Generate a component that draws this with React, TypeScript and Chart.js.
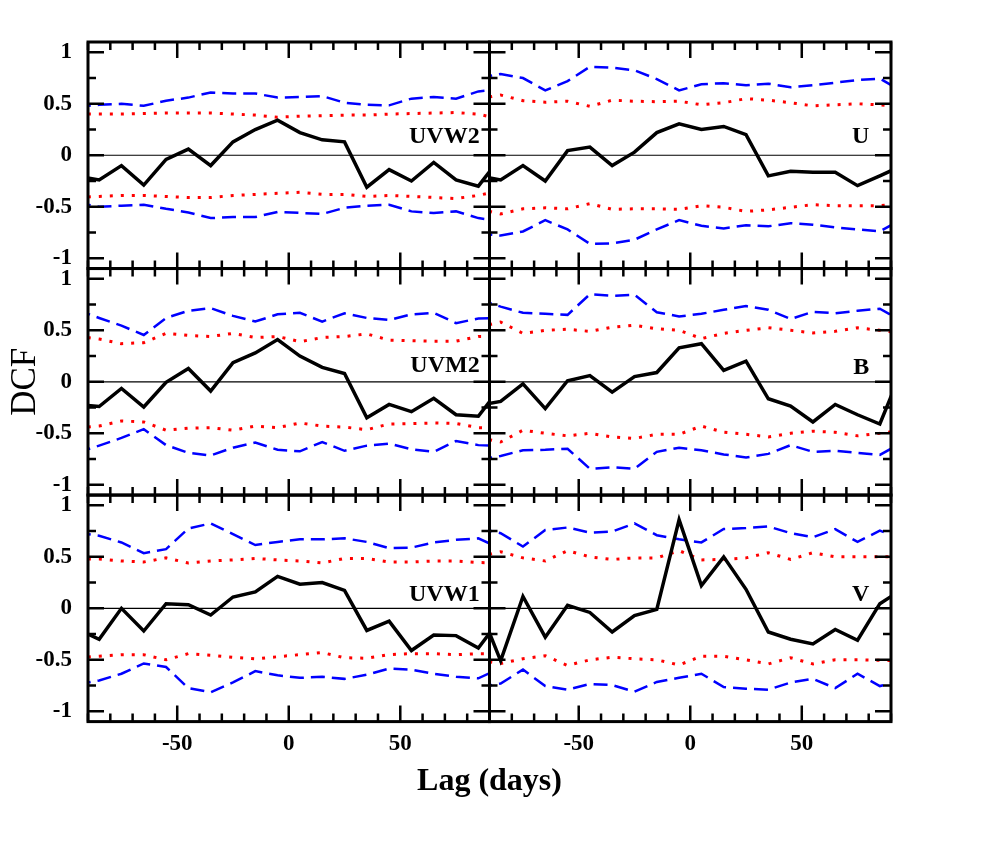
import { useEffect, useRef } from "react";
import { Chart, registerables } from "chart.js";

Chart.register(...registerables);

// lag grid (days); the two outer points fall just outside the plotted range
const lags = [-95, -85, -75, -65, -55, -45, -35, -25, -15, -5, 5, 15, 25, 35, 45, 55, 65, 75, 85, 95];

// UVW2
const uvw2Dcf = [-0.2, -0.24, -0.1, -0.29, -0.04, 0.06, -0.1, 0.13, 0.25, 0.34, 0.22, 0.15, 0.13, -0.31, -0.14, -0.25, -0.07, -0.24, -0.3, -0.02];
const uvw2RedHi = [0.4, 0.4, 0.4, 0.405, 0.41, 0.41, 0.41, 0.4, 0.39, 0.37, 0.38, 0.385, 0.39, 0.39, 0.4, 0.405, 0.41, 0.415, 0.4, 0.35];
const uvw2RedLo = [-0.41, -0.4, -0.39, -0.39, -0.4, -0.41, -0.41, -0.39, -0.38, -0.37, -0.36, -0.38, -0.38, -0.4, -0.39, -0.4, -0.41, -0.42, -0.39, -0.34];
const uvw2BlueHi = [0.47, 0.49, 0.5, 0.48, 0.53, 0.56, 0.61, 0.6, 0.6, 0.56, 0.565, 0.575, 0.51, 0.49, 0.485, 0.55, 0.565, 0.55, 0.62, 0.64];
const uvw2BlueLo = [-0.46, -0.5, -0.49, -0.48, -0.52, -0.555, -0.61, -0.6, -0.6, -0.55, -0.56, -0.57, -0.51, -0.49, -0.48, -0.545, -0.56, -0.545, -0.61, -0.64];

// U
const uDcf = [-0.2, -0.24, -0.1, -0.25, 0.045, 0.08, -0.1, 0.03, 0.22, 0.305, 0.25, 0.28, 0.2, -0.2, -0.155, -0.165, -0.165, -0.295, -0.2, -0.1];
const uRedHi = [0.55, 0.585, 0.53, 0.515, 0.525, 0.475, 0.535, 0.525, 0.52, 0.525, 0.49, 0.51, 0.55, 0.535, 0.51, 0.48, 0.49, 0.5, 0.49, 0.47];
const uRedLo = [-0.52, -0.57, -0.52, -0.51, -0.52, -0.47, -0.525, -0.52, -0.52, -0.525, -0.49, -0.505, -0.545, -0.53, -0.505, -0.48, -0.49, -0.49, -0.49, -0.47];
const uBlueHi = [0.75, 0.79, 0.75, 0.63, 0.72, 0.86, 0.85, 0.825, 0.74, 0.63, 0.69, 0.7, 0.68, 0.695, 0.66, 0.68, 0.705, 0.73, 0.745, 0.62];
const uBlueLo = [-0.76, -0.78, -0.74, -0.63, -0.72, -0.86, -0.855, -0.82, -0.72, -0.63, -0.685, -0.71, -0.68, -0.69, -0.66, -0.675, -0.7, -0.72, -0.74, -0.62];

// UVM2
const uvm2Dcf = [-0.22, -0.24, -0.065, -0.245, -0.005, 0.13, -0.09, 0.185, 0.28, 0.41, 0.25, 0.14, 0.08, -0.35, -0.22, -0.29, -0.16, -0.32, -0.335, -0.055];
const uvm2RedHi = [0.445, 0.415, 0.37, 0.38, 0.47, 0.45, 0.44, 0.47, 0.43, 0.44, 0.39, 0.43, 0.44, 0.465, 0.405, 0.4, 0.395, 0.395, 0.44, 0.44];
const uvm2RedLo = [-0.45, -0.43, -0.38, -0.39, -0.47, -0.45, -0.445, -0.47, -0.43, -0.445, -0.4, -0.43, -0.44, -0.465, -0.41, -0.405, -0.4, -0.405, -0.445, -0.45];
const uvm2BlueHi = [0.7, 0.62, 0.545, 0.455, 0.62, 0.69, 0.715, 0.64, 0.585, 0.655, 0.67, 0.585, 0.665, 0.62, 0.6, 0.655, 0.67, 0.57, 0.615, 0.62];
const uvm2BlueLo = [-0.69, -0.62, -0.545, -0.46, -0.615, -0.69, -0.715, -0.64, -0.59, -0.66, -0.675, -0.585, -0.67, -0.62, -0.6, -0.655, -0.68, -0.575, -0.615, -0.62];

// B
const bDcf = [-0.23, -0.19, -0.02, -0.26, 0.01, 0.06, -0.1, 0.05, 0.09, 0.33, 0.37, 0.11, 0.2, -0.165, -0.235, -0.39, -0.22, -0.32, -0.41, 0.12];
const bRedHi = [0.53, 0.58, 0.47, 0.5, 0.51, 0.49, 0.53, 0.55, 0.515, 0.5, 0.42, 0.47, 0.5, 0.525, 0.5, 0.475, 0.49, 0.525, 0.5, 0.47];
const bRedLo = [-0.54, -0.585, -0.47, -0.5, -0.525, -0.5, -0.535, -0.55, -0.51, -0.51, -0.43, -0.49, -0.51, -0.535, -0.5, -0.48, -0.49, -0.525, -0.5, -0.47];
const bBlueHi = [0.8, 0.73, 0.67, 0.66, 0.65, 0.85, 0.835, 0.845, 0.675, 0.635, 0.66, 0.7, 0.735, 0.7, 0.61, 0.68, 0.665, 0.69, 0.71, 0.59];
const bBlueLo = [-0.76, -0.72, -0.665, -0.66, -0.65, -0.845, -0.83, -0.845, -0.68, -0.64, -0.665, -0.705, -0.735, -0.7, -0.615, -0.68, -0.67, -0.69, -0.71, -0.59];

// UVW1
const uvw1Dcf = [-0.2, -0.3, 0.0, -0.22, 0.045, 0.035, -0.065, 0.11, 0.16, 0.31, 0.235, 0.25, 0.175, -0.215, -0.125, -0.41, -0.26, -0.265, -0.385, -0.1];
const uvw1RedHi = [0.48, 0.48, 0.46, 0.45, 0.49, 0.44, 0.46, 0.47, 0.485, 0.47, 0.46, 0.44, 0.485, 0.485, 0.45, 0.45, 0.46, 0.46, 0.445, 0.44];
const uvw1RedLo = [-0.48, -0.465, -0.45, -0.45, -0.5, -0.44, -0.455, -0.475, -0.49, -0.47, -0.45, -0.43, -0.48, -0.485, -0.45, -0.44, -0.44, -0.45, -0.44, -0.44];
const uvw1BlueHi = [0.735, 0.705, 0.64, 0.535, 0.575, 0.775, 0.825, 0.72, 0.615, 0.645, 0.67, 0.67, 0.68, 0.645, 0.585, 0.59, 0.64, 0.665, 0.68, 0.58];
const uvw1BlueLo = [-0.74, -0.7, -0.635, -0.535, -0.57, -0.775, -0.815, -0.72, -0.61, -0.65, -0.675, -0.665, -0.685, -0.645, -0.585, -0.595, -0.635, -0.665, -0.68, -0.58];

// V
const vDcf = [0.03, -0.51, 0.115, -0.28, 0.03, -0.04, -0.23, -0.07, -0.01, 0.86, 0.22, 0.5, 0.185, -0.23, -0.3, -0.345, -0.205, -0.31, 0.045, 0.185];
const vRedHi = [0.5, 0.55, 0.49, 0.46, 0.56, 0.5, 0.475, 0.49, 0.49, 0.56, 0.47, 0.475, 0.49, 0.54, 0.475, 0.54, 0.5, 0.5, 0.5, 0.5];
const vRedLo = [-0.505, -0.535, -0.49, -0.46, -0.555, -0.5, -0.475, -0.49, -0.5, -0.55, -0.465, -0.465, -0.5, -0.54, -0.48, -0.54, -0.5, -0.5, -0.505, -0.51];
const vBlueHi = [0.78, 0.73, 0.6, 0.76, 0.785, 0.735, 0.745, 0.825, 0.71, 0.67, 0.64, 0.77, 0.78, 0.795, 0.73, 0.69, 0.77, 0.645, 0.755, 0.67];
const vBlueLo = [-0.77, -0.73, -0.595, -0.755, -0.79, -0.735, -0.745, -0.81, -0.715, -0.675, -0.635, -0.765, -0.78, -0.79, -0.72, -0.685, -0.775, -0.635, -0.755, -0.7];

// axis ticks
const xTickLabels = [-50, 0, 50];
const xMinorTicks = [-90, -80, -70, -60, -40, -30, -20, -10, 10, 20, 30, 40, 60, 70, 80, 90];
const yTickLabels = [-1, -0.5, 0, 0.5, 1];
const yMinorTicks = [-0.75, -0.25, 0.25, 0.75];

const panels = [
  { name: "UVW2", x: "xL", y: "yTop", dcf: uvw2Dcf, redHi: uvw2RedHi, redLo: uvw2RedLo, blueHi: uvw2BlueHi, blueLo: uvw2BlueLo, lx: 85.6, ly: 0.18 },
  { name: "U", x: "xR", y: "yTop", dcf: uDcf, redHi: uRedHi, redLo: uRedLo, blueHi: uBlueHi, blueLo: uBlueLo, lx: 80.3, ly: 0.18 },
  { name: "UVM2", x: "xL", y: "yMid", dcf: uvm2Dcf, redHi: uvm2RedHi, redLo: uvm2RedLo, blueHi: uvm2BlueHi, blueLo: uvm2BlueLo, lx: 85.6, ly: 0.16 },
  { name: "B", x: "xR", y: "yMid", dcf: bDcf, redHi: bRedHi, redLo: bRedLo, blueHi: bBlueHi, blueLo: bBlueLo, lx: 80.3, ly: 0.14 },
  { name: "UVW1", x: "xL", y: "yBot", dcf: uvw1Dcf, redHi: uvw1RedHi, redLo: uvw1RedLo, blueHi: uvw1BlueHi, blueLo: uvw1BlueLo, lx: 85.6, ly: 0.13 },
  { name: "V", x: "xR", y: "yBot", dcf: vDcf, redHi: vRedHi, redLo: vRedLo, blueHi: vBlueHi, blueLo: vBlueLo, lx: 80.3, ly: 0.13 },
];

const serif = "'Liberation Serif', 'Times New Roman', serif";

const toPoints = (vals: number[]) => lags.map((x, i) => ({ x, y: vals[i] }));

// clips each dataset to its own panel, draws frames, inward ticks, zero lines and names
const panelPlugin = {
  id: "panels",
  beforeDatasetsDraw(chart: any) {
    const ctx = chart.ctx;
    ctx.save();
    ctx.strokeStyle = "#000";
    ctx.lineWidth = 1.2;
    panels.forEach((p) => {
      const xs = chart.scales[p.x];
      const ys = chart.scales[p.y];
      const y0 = ys.getPixelForValue(0);
      ctx.beginPath();
      ctx.moveTo(xs.left, y0);
      ctx.lineTo(xs.right, y0);
      ctx.stroke();
    });
    ctx.restore();
  },
  beforeDatasetDraw(chart: any, args: any) {
    const xs = chart.scales[args.meta.xAxisID];
    const ys = chart.scales[args.meta.yAxisID];
    const ctx = chart.ctx;
    ctx.save();
    ctx.beginPath();
    ctx.rect(xs.left, ys.top, xs.right - xs.left, ys.bottom - ys.top);
    ctx.clip();
  },
  afterDatasetDraw(chart: any) {
    chart.ctx.restore();
  },
  afterDraw(chart: any) {
    const ctx = chart.ctx;
    ctx.save();
    ctx.strokeStyle = "#000";
    panels.forEach((p) => {
      const xs = chart.scales[p.x];
      const ys = chart.scales[p.y];
      ctx.lineWidth = 2.5;
      ctx.beginPath();
      const xTick = (v: number, len: number) => {
        const px = xs.getPixelForValue(v);
        ctx.moveTo(px, ys.bottom);
        ctx.lineTo(px, ys.bottom - len);
        ctx.moveTo(px, ys.top);
        ctx.lineTo(px, ys.top + len);
      };
      const yTick = (v: number, len: number) => {
        const py = ys.getPixelForValue(v);
        ctx.moveTo(xs.left, py);
        ctx.lineTo(xs.left + len, py);
        ctx.moveTo(xs.right, py);
        ctx.lineTo(xs.right - len, py);
      };
      xTickLabels.forEach((v) => xTick(v, 16));
      xMinorTicks.forEach((v) => xTick(v, 8));
      yTickLabels.forEach((v) => yTick(v, 16));
      yMinorTicks.forEach((v) => yTick(v, 8));
      ctx.stroke();
      ctx.lineWidth = 3;
      ctx.strokeRect(xs.left, ys.top, xs.right - xs.left, ys.bottom - ys.top);
      ctx.fillStyle = "#000";
      ctx.font = `bold 24px ${serif}`;
      ctx.textAlign = "right";
      ctx.textBaseline = "middle";
      ctx.fillText(p.name, xs.getPixelForValue(p.lx), ys.getPixelForValue(p.ly));
    });
    ctx.restore();
  },
};

const xAxis = () => ({
  type: "linear" as const,
  position: "bottom" as const,
  stack: "cols",
  min: -90,
  max: 90,
  grid: { display: false },
  border: { display: false },
  afterBuildTicks: (scale: any) => {
    scale.ticks = xTickLabels.map((value) => ({ value }));
  },
  afterFit: (scale: any) => {
    scale.height = 41;
  },
  ticks: {
    color: "#000",
    font: { family: serif, size: 23, weight: "bold" as const },
    padding: 1,
    maxRotation: 0,
    autoSkip: false,
    callback: (v: any) => String(v),
  },
});

const yAxis = (withTitle: boolean) => ({
  type: "linear" as const,
  position: "left" as const,
  stack: "rows",
  min: -1.1,
  max: 1.1,
  grid: { display: false },
  border: { display: false },
  afterBuildTicks: (scale: any) => {
    scale.ticks = yTickLabels.map((value) => ({ value }));
  },
  afterFit: (scale: any) => {
    scale.width = 88;
  },
  ticks: {
    color: "#000",
    font: { family: serif, size: 23, weight: "bold" as const },
    padding: 8,
    autoSkip: false,
    callback: (v: any) => String(v),
  },
  title: {
    display: withTitle,
    text: "DCF",
    color: "#000",
    font: { family: serif, size: 35, weight: "normal" as const },
    padding: { top: 5, bottom: 0 },
  },
});

export default function App() {
  const chartRef = useRef<HTMLCanvasElement | null>(null);

  useEffect(() => {
    if (!chartRef.current) return;
    const datasets: any[] = [];
    panels.forEach((p) => {
      datasets.push({
        label: p.name + " DCF",
        data: toPoints(p.dcf),
        xAxisID: p.x,
        yAxisID: p.y,
        borderColor: "#000",
        borderWidth: 3.5,
        order: 0,
      });
      [p.redHi, p.redLo].forEach((vals) =>
        datasets.push({
          label: p.name + " red",
          data: toPoints(vals),
          xAxisID: p.x,
          yAxisID: p.y,
          borderColor: "#ff0000",
          borderWidth: 3,
          borderDash: [3, 8],
          order: 1,
        })
      );
      [p.blueHi, p.blueLo].forEach((vals) =>
        datasets.push({
          label: p.name + " blue",
          data: toPoints(vals),
          xAxisID: p.x,
          yAxisID: p.y,
          borderColor: "#0000ff",
          borderWidth: 2.5,
          borderDash: [14, 7],
          order: 2,
        })
      );
    });

    const chart = new Chart(chartRef.current, {
      type: "line",
      data: { datasets },
      options: {
        animation: false,
        responsive: true,
        maintainAspectRatio: false,
        events: [],
        elements: { point: { radius: 0 }, line: { tension: 0, fill: false } },
        layout: { padding: { left: 0, top: 42, right: 111, bottom: 49 } },
        scales: {
          xL: xAxis(),
          xR: xAxis(),
          yBot: yAxis(false),
          yMid: yAxis(true),
          yTop: yAxis(false),
        } as any,
        plugins: {
          legend: { display: false },
          tooltip: { enabled: false },
          title: {
            display: true,
            text: "Lag (days)",
            position: "bottom",
            fullSize: false,
            color: "#000",
            font: { family: serif, size: 32, weight: "bold" },
            padding: 0,
          },
        },
      },
      plugins: [panelPlugin],
    });

    return () => {
      chart.destroy();
    };
  }, []);

  return (
    <div style={{ position: "absolute", left: 0, top: 0, width: 1002, height: 850, background: "#fff" }}>
      <canvas ref={chartRef}></canvas>
    </div>
  );
}
